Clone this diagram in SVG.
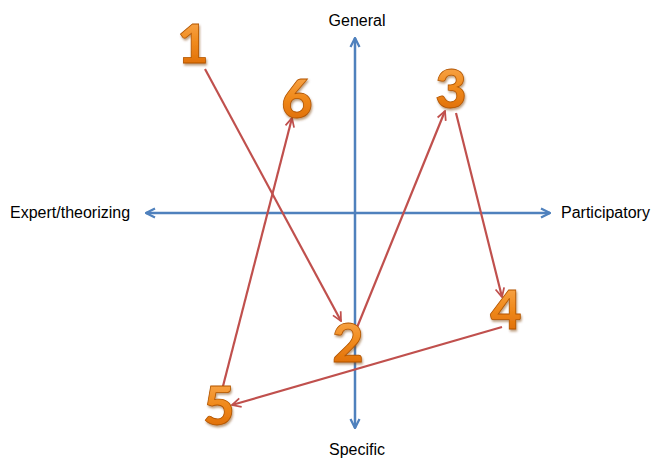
<svg xmlns="http://www.w3.org/2000/svg" width="652" height="460" viewBox="0 0 652 460">
<style>
.lbl{font-family:"Liberation Sans",Arial,sans-serif;font-size:16px;fill:#000}
.ax{stroke:#4f81bd;stroke-width:2.5;fill:none}
.rd{stroke:#c0504d;stroke-width:2.2;fill:none;marker-end:url(#rh)}
.num{font-family:Lato,"Open Sans",sans-serif;font-weight:900;font-size:54px;fill:url(#og);stroke:#b35500;stroke-width:0.8;text-anchor:middle;filter:url(#sh)}
</style>
<defs>
<linearGradient id="og" x1="0" y1="0" x2="0" y2="1">
<stop offset="0" stop-color="#fbb15e"/>
<stop offset="0.5" stop-color="#f08a1c"/>
<stop offset="1" stop-color="#d96400"/>
</linearGradient>
<filter id="sh" x="-20%" y="-20%" width="150%" height="150%">
<feDropShadow dx="1" dy="2" stdDeviation="1" flood-color="#7a3a00" flood-opacity="0.5"/>
</filter>
<marker id="bh" viewBox="0 0 10 10" refX="9" refY="5" markerWidth="4.5" markerHeight="4.5" orient="auto-start-reverse" markerUnits="strokeWidth">
<path d="M1,1 L9,5 L1,9" fill="none" stroke="#4f81bd" stroke-width="2"/>
</marker>
<marker id="rh" viewBox="0 0 10 10" refX="9" refY="5" markerWidth="5" markerHeight="5" orient="auto" markerUnits="strokeWidth">
<path d="M1,1 L9,5 L1,9" fill="none" stroke="#c0504d" stroke-width="1.6"/>
</marker>
</defs>
<g id="axes">
<line class="ax" x1="355" y1="428" x2="355" y2="38" marker-start="url(#bh)" marker-end="url(#bh)"/>
<line class="ax" x1="146" y1="213" x2="550" y2="213" marker-start="url(#bh)" marker-end="url(#bh)"/>
</g>
<g id="labels">
<text class="lbl" x="357" y="26" text-anchor="middle">General</text>
<text class="lbl" x="357" y="455" text-anchor="middle">Specific</text>
<text class="lbl" x="10" y="218">Expert/theorizing</text>
<text class="lbl" x="561" y="218">Participatory</text>
</g>
<g id="connectors">
<line class="rd" x1="205" y1="69" x2="341" y2="321"/>
<line class="rd" x1="356" y1="330" x2="445" y2="111"/>
<line class="rd" x1="456" y1="113" x2="502" y2="297"/>
<line class="rd" x1="502" y1="327" x2="232" y2="405"/>
<line class="rd" x1="222" y1="390" x2="292" y2="118"/>
</g>
<g id="n1"><text class="num" x="193" y="63">1</text></g>
<g id="n2"><text class="num" x="348" y="362">2</text></g>
<g id="n3"><text class="num" x="451" y="108">3</text></g>
<g id="n4"><text class="num" x="506" y="329">4</text></g>
<g id="n5"><text class="num" x="219" y="425">5</text></g>
<g id="n6"><text class="num" x="297" y="118">6</text></g>
</svg>
